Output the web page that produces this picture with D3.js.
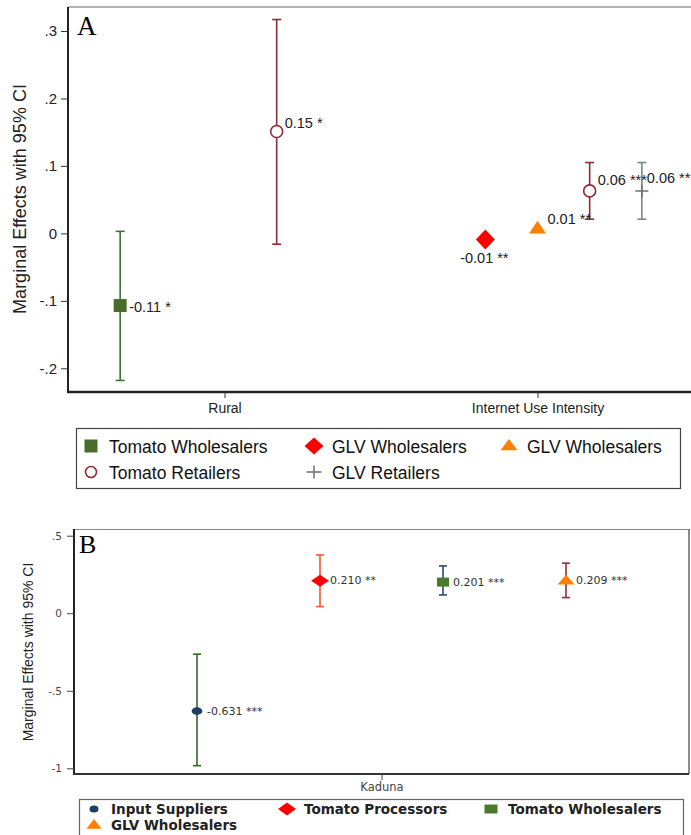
<!DOCTYPE html>
<html>
<head>
<meta charset="utf-8">
<script src="https://cdn.jsdelivr.net/npm/d3@7"></script>
<style>
  html, body { margin: 0; padding: 0; background: #fff; }
  svg { display: block; }
</style>
</head>
<body>
<div id="grafico"></div>
<script>
// ===== Datos del panel A =====
const categoriasA = ["Rural", "Internet Use Intensity"];
const nombresA = ["Tomato Wholesalers", "GLV Wholesalers", "GLV Wholesalers", "Tomato Retailers", "GLV Retailers"];
// un elemento por punto: categoria, serie, efecto marginal, IC 95%, etiqueta
const catA = [0, 0, 1, 1, 1, 1];
const serieA = [0, 3, 1, 2, 3, 4];
const efectoA = [-0.107, 0.151, -0.009, 0.007, 0.063, 0.063];
const icBajoA = [-0.218, -0.016, null, null, 0.021, 0.021];
const icAltoA = [0.003, 0.317, null, null, 0.105, 0.105];
const etiquetasA = ["-0.11 *", "0.15 *", "-0.01 **", "0.01 **", "0.06 ***", "0.06 ***"];
const ticksA = [-0.2, -0.1, 0, 0.1, 0.2, 0.3];
const ticksTextoA = ["-.2", "-.1", "0", ".1", ".2", ".3"];

// ===== Datos del panel B =====
const categoriasB = ["Kaduna"];
const nombresB = ["Input Suppliers", "Tomato Processors", "Tomato Wholesalers", "GLV Wholesalers"];
const catB = [0, 0, 0, 0];
const serieB = [0, 1, 2, 3];
const efectoB = [-0.631, 0.210, 0.201, 0.209];
const icBajoB = [-0.983, 0.043, 0.118, 0.101];
const icAltoB = [-0.264, 0.376, 0.305, 0.323];
const etiquetasB = ["-0.631 ***", "0.210 **", "0.201 ***", "0.209 ***"];
const ticksB = [-1, -0.5, 0, 0.5];
const ticksTextoB = ["-1", "-.5", "0", ".5"];

// ===== Estilos (no son datos) =====
const estiloA = [
  {forma: "square", color: "#4a6d2b", ic: "#3b7236", w: 6.5, h: 6.5},
  {forma: "diamond", color: "#ff0000", ic: "#ff0000", w: 9.5, h: 10},
  {forma: "triangle", color: "#ff8000", ic: "#ff8000", w: 8.5, h: 8},
  {forma: "circle", color: "#902a36", ic: "#902a36", w: 6, h: 6, hueco: true},
  {forma: "plus", color: "#707070", ic: "#6e8e80", w: 6.5, h: 6.5}
];
// desplazamiento de cada serie dentro de la categoria (sextos)
const desplazaA = [-2, -1, 0, 1, 2];
// donde va la etiqueta de cada punto respecto al marcador
const posEtiquetaA = [
  {dx: 9, dy: 6, ancla: "start"},
  {dx: 8, dy: -4, ancla: "start"},
  {dx: -1, dy: 24, ancla: "middle"},
  {dx: 10, dy: -5, ancla: "start"},
  {dx: 8, dy: -6, ancla: "start"},
  {dx: 5, dy: -8, ancla: "start"}
];

const estiloB = [
  {forma: "circle", color: "#1d3f66", ic: "#2e6c22", w: 5.4, h: 3.8},
  {forma: "diamond", color: "#ff0000", ic: "#ef5a2e", w: 9, h: 6},
  {forma: "square", color: "#4a7a2c", ic: "#2b4a75", w: 6, h: 4.5},
  {forma: "triangle", color: "#ff8000", ic: "#8e2f40", w: 8.5, h: 6}
];
const desplazaB = [-1.5, -0.5, 0.5, 1.5];

const W = 691, H = 835;

const svg = d3.select("#grafico").append("svg")
    .attr("width", W)
    .attr("height", H)
    .style("background", "#fff");

// Genera el path de cada marcador a partir de su medio ancho (w) y medio alto (h)
function marcador(forma, w, h) {
    if (forma === "square") return `M${-w},${-h}H${w}V${h}H${-w}Z`;
    if (forma === "diamond") return `M0,${-h}L${w},0L0,${h}L${-w},0Z`;
    if (forma === "triangle") return `M0,${-h}L${w},${h * 0.62}L${-w},${h * 0.62}Z`;
    if (forma === "circle") return `M${-w},0A${w},${h} 0 1,0 ${w},0A${w},${h} 0 1,0 ${-w},0Z`;
    if (forma === "plus") return `M${-w},0H${w}M0,${-h}V${h}`;
}

function pintarMarcador(g, est, x, y) {
    const p = g.append("path")
        .attr("d", marcador(est.forma, est.w, est.h))
        .attr("transform", `translate(${x},${y})`);
    if (est.forma === "plus") {
        p.attr("fill", "none").attr("stroke", est.color).attr("stroke-width", 1.5);
    } else if (est.hueco) {
        p.attr("fill", "#fff").attr("stroke", est.color).attr("stroke-width", 1.6);
    } else {
        p.attr("fill", est.color);
    }
}

// ================= PANEL A =================
const gA = svg.append("g");
const xA = d3.scaleLinear().domain([-0.5, 1.5]).range([68, 694]);
const yA = d3.scaleLinear().domain([-0.2, 0.3]).range([368.3, 31]);

// marco
gA.append("line").attr("x1", 68).attr("x2", 700).attr("y1", 7).attr("y2", 7)
    .attr("stroke", "#666").attr("stroke-width", 1);
gA.append("line").attr("x1", 68).attr("x2", 68).attr("y1", 7).attr("y2", 393)
    .attr("stroke", "#222").attr("stroke-width", 2);
gA.append("line").attr("x1", 67).attr("x2", 700).attr("y1", 392).attr("y2", 392)
    .attr("stroke", "#222").attr("stroke-width", 2.5);

// eje Y
const ejeYA = gA.append("g")
    .attr("transform", "translate(68,0)")
    .call(d3.axisLeft(yA).tickValues(ticksA).tickFormat((d, i) => ticksTextoA[i]).tickSize(7).tickPadding(4));
ejeYA.select(".domain").remove();
ejeYA.selectAll("line").attr("stroke", "#333");
ejeYA.selectAll("text").attr("font-family", "Liberation Sans, Arial, sans-serif").attr("font-size", 15).attr("fill", "#222");

// eje X
const ejeXA = gA.append("g")
    .attr("transform", "translate(0,392)")
    .call(d3.axisBottom(xA).tickValues([0, 1]).tickFormat(i => categoriasA[i]).tickSize(6).tickPadding(5));
ejeXA.select(".domain").remove();
ejeXA.selectAll("line").attr("stroke", "#333");
ejeXA.selectAll("text").attr("font-family", "Liberation Sans, Arial, sans-serif").attr("font-size", 14).attr("fill", "#222");

// titulo eje Y
gA.append("text")
    .attr("transform", "translate(26,199) rotate(-90)")
    .attr("text-anchor", "middle")
    .attr("font-family", "Liberation Sans, Arial, sans-serif")
    .attr("font-size", 18)
    .attr("fill", "#222")
    .text("Marginal Effects with 95% CI");

// letra del panel
gA.append("text").attr("x", 77).attr("y", 35)
    .attr("font-family", "Liberation Serif, Times New Roman, serif")
    .attr("font-size", 27).attr("fill", "#000").text("A");

// intervalos de confianza
efectoA.forEach((v, i) => {
    if (icBajoA[i] === null) return;
    const est = estiloA[serieA[i]];
    const x = xA(catA[i] + desplazaA[serieA[i]] / 6);
    const g = gA.append("g").attr("stroke", est.ic).attr("stroke-width", 1.6);
    g.append("line").attr("x1", x).attr("x2", x).attr("y1", yA(icBajoA[i])).attr("y2", yA(icAltoA[i]));
    g.append("line").attr("x1", x - 4.5).attr("x2", x + 4.5).attr("y1", yA(icBajoA[i])).attr("y2", yA(icBajoA[i]));
    g.append("line").attr("x1", x - 4.5).attr("x2", x + 4.5).attr("y1", yA(icAltoA[i])).attr("y2", yA(icAltoA[i]));
});

// marcadores y etiquetas
efectoA.forEach((v, i) => {
    const est = estiloA[serieA[i]];
    const x = xA(catA[i] + desplazaA[serieA[i]] / 6);
    const y = yA(v);
    pintarMarcador(gA, est, x, y);
    const pe = posEtiquetaA[i];
    gA.append("text")
        .attr("x", x + pe.dx).attr("y", y + pe.dy)
        .attr("text-anchor", pe.ancla)
        .attr("font-family", "Liberation Sans, Arial, sans-serif")
        .attr("font-size", 14.5)
        .attr("fill", "#222")
        .text(etiquetasA[i]);
});

// leyenda A
const colsA = [91, 314, 509], filasA = [446, 472];
gA.append("rect").attr("x", 76.5).attr("y", 428.5).attr("width", 604).attr("height", 60)
    .attr("fill", "none").attr("stroke", "#444").attr("stroke-width", 1.2);
nombresA.forEach((nombre, i) => {
    const cx = colsA[i % 3], cy = filasA[Math.floor(i / 3)];
    const est = estiloA[i];
    const tam = [{w: 6.5, h: 6.5}, {w: 9.5, h: 8.5}, {w: 8.5, h: 7}, {w: 5.5, h: 5.5}, {w: 7.5, h: 6.5}][i];
    pintarMarcador(gA, Object.assign({}, est, tam), cx, cy);
    gA.append("text")
        .attr("x", cx + 18).attr("y", cy + 6.5)
        .attr("font-family", "Liberation Sans, Arial, sans-serif")
        .attr("font-size", 17.5)
        .attr("fill", "#111")
        .text(nombre);
});

// ================= PANEL B =================
const gB = svg.append("g");
const xB = d3.scaleLinear().domain([-2.5, 2.5]).range([74, 689]);
const yB = d3.scaleLinear().domain([-1, 0.5]).range([768.3, 535.7]);

gB.append("line").attr("x1", 74).attr("x2", 689).attr("y1", 529.5).attr("y2", 529.5)
    .attr("stroke", "#888").attr("stroke-width", 1.2);
gB.append("line").attr("x1", 689).attr("x2", 689).attr("y1", 529).attr("y2", 774)
    .attr("stroke", "#666").attr("stroke-width", 1.5);
gB.append("line").attr("x1", 74).attr("x2", 74).attr("y1", 529).attr("y2", 775)
    .attr("stroke", "#222").attr("stroke-width", 2);
gB.append("line").attr("x1", 73).attr("x2", 689).attr("y1", 774).attr("y2", 774)
    .attr("stroke", "#333").attr("stroke-width", 2);

const ejeYB = gB.append("g")
    .attr("transform", "translate(74,0)")
    .call(d3.axisLeft(yB).tickValues(ticksB).tickFormat((d, i) => ticksTextoB[i]).tickSize(7).tickPadding(5));
ejeYB.select(".domain").remove();
ejeYB.selectAll("line").attr("stroke", "#444");
ejeYB.selectAll("text").attr("font-family", "DejaVu Sans, Verdana, sans-serif").attr("font-size", 10.5).attr("fill", "#444");

const ejeXB = gB.append("g")
    .attr("transform", "translate(0,774)")
    .call(d3.axisBottom(xB).tickValues([0]).tickFormat(i => categoriasB[i]).tickSize(6).tickPadding(3));
ejeXB.select(".domain").remove();
ejeXB.selectAll("line").attr("stroke", "#444");
ejeXB.selectAll("text").attr("font-family", "DejaVu Sans, Verdana, sans-serif").attr("font-size", 11.5).attr("fill", "#444");

gB.append("text")
    .attr("transform", "translate(33,652) rotate(-90)")
    .attr("text-anchor", "middle")
    .attr("font-family", "Liberation Sans Narrow, Arial Narrow, Liberation Sans, sans-serif")
    .attr("font-size", 14)
    .attr("fill", "#222")
    .text("Marginal Effects with 95% CI");

gB.append("text").attr("x", 79).attr("y", 553)
    .attr("font-family", "Liberation Serif, Times New Roman, serif")
    .attr("font-size", 26).attr("fill", "#000").text("B");

efectoB.forEach((v, i) => {
    const est = estiloB[serieB[i]];
    const x = xB(catB[i] + desplazaB[serieB[i]]);
    const g = gB.append("g").attr("stroke", est.ic).attr("stroke-width", 1.6);
    g.append("line").attr("x1", x).attr("x2", x).attr("y1", yB(icBajoB[i])).attr("y2", yB(icAltoB[i]));
    g.append("line").attr("x1", x - 4).attr("x2", x + 4).attr("y1", yB(icBajoB[i])).attr("y2", yB(icBajoB[i]));
    g.append("line").attr("x1", x - 4).attr("x2", x + 4).attr("y1", yB(icAltoB[i])).attr("y2", yB(icAltoB[i]));
});

efectoB.forEach((v, i) => {
    const est = estiloB[serieB[i]];
    const x = xB(catB[i] + desplazaB[serieB[i]]);
    const y = yB(v);
    pintarMarcador(gB, est, x, y);
    gB.append("text")
        .attr("x", x + 10).attr("y", y + 3.5)
        .attr("font-family", "DejaVu Sans, Verdana, sans-serif")
        .attr("font-size", 11)
        .attr("fill", "#333")
        .text(etiquetasB[i]);
});

// leyenda B (cortada por el borde inferior, como en la imagen)
const colsB = [94, 287, 491], filasB = [809, 825];
gB.append("rect").attr("x", 79.5).attr("y", 799.5).attr("width", 604).attr("height", 60)
    .attr("fill", "none").attr("stroke", "#666").attr("stroke-width", 1.2);
nombresB.forEach((nombre, i) => {
    const cx = colsB[i % 3], cy = filasB[Math.floor(i / 3)];
    const tam = [{w: 4.5, h: 3.5}, {w: 9, h: 6.5}, {w: 6.5, h: 4.5}, {w: 7.5, h: 6}][i];
    pintarMarcador(gB, Object.assign({}, estiloB[i], tam), cx, cy);
    gB.append("text")
        .attr("x", cx + 17).attr("y", cy + 5)
        .attr("font-family", "DejaVu Sans, Verdana, sans-serif")
        .attr("font-weight", "bold")
        .attr("font-size", 13.5)
        .attr("fill", "#222")
        .text(nombre);
});
</script>
</body>
</html>
